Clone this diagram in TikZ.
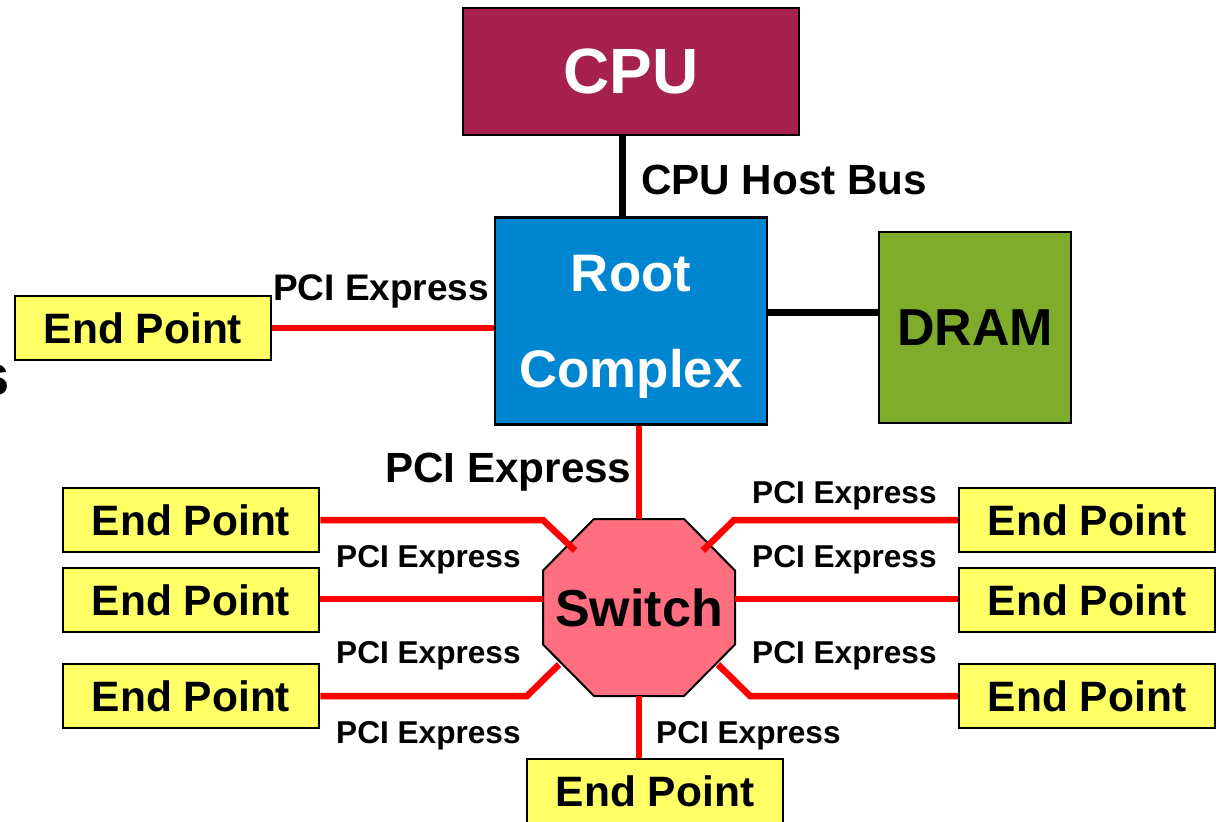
\documentclass[tikz,border=0pt]{standalone}
\usepackage{fontspec}
\setmainfont{Liberation Sans}
\usetikzlibrary{calc}

\definecolor{cpumaroon}{RGB}{166,33,78}
\definecolor{rootblue}{RGB}{0,133,208}
\definecolor{dramgreen}{RGB}{127,172,42}
\definecolor{swpink}{RGB}{255,111,127}
\definecolor{epyellow}{RGB}{255,255,102}
\definecolor{linkred}{RGB}{255,0,0}

\newcommand\boldat[1]{\fontsize{#1}{#1}\selectfont\bfseries}

\tikzset{
  box/.style={draw=black, line width=2.5pt, inner sep=0pt},
  endpoint/.style={box, fill=epyellow, minimum width=256pt, minimum height=64pt,
    font=\boldat{42.5}},
  pcie/.style={draw=linkred, line width=6.5pt},
  hostbus/.style={draw=black, line width=7pt},
  smalllbl/.style={anchor=base west, inner sep=0pt, font=\boldat{31.6}},
  biglbl/.style={anchor=base west, inner sep=0pt, font=\boldat{42.2}},
}

\begin{document}
\begin{tikzpicture}[x=1pt, y=-1pt]
\useasboundingbox (0,0) rectangle (1219,822);
\clip (0,0) rectangle (1219,822);
\fill[white] (0,0) rectangle (1219,822);

% letter running off the left edge
\node[anchor=base east, inner sep=0pt, font=\boldat{58}] (cut) at (10,395) {s};

% main blocks
\node[box, fill=cpumaroon, minimum width=336pt, minimum height=127pt,
      text=white, font=\boldat{64}] (cpu) at (631,71.5) {CPU};
\node[box, fill=rootblue, minimum width=272pt, minimum height=207pt,
      text=white, font=\boldat{52.8}, align=center, text depth=0pt]
      (root) at (631,321) {Root\\[43pt]Complex};
\node[box, fill=dramgreen, minimum width=192pt, minimum height=191pt,
      font=\boldat{52}] (dram) at (975,327.5) {DRAM};

% switch: octagon outline around its centre
\coordinate (swc) at (639,607.5);
\draw[line width=2pt, fill=swpink]
  ($(swc)+(-45,-88.5)$) -- ($(swc)+(45,-88.5)$) -- ($(swc)+(96,-37)$) --
  ($(swc)+(96,37)$) -- ($(swc)+(45,88.5)$) -- ($(swc)+(-45,88.5)$) --
  ($(swc)+(-96,37)$) -- ($(swc)+(-96,-37)$) -- cycle;
\node[inner sep=0pt, font=\boldat{52}] (switch) at (swc) {Switch};
\coordinate (swN) at ($(swc)+(0,-88.5)$);
\coordinate (swS) at ($(swc)+(0,88.5)$);
\coordinate (swW) at ($(swc)+(-96,0)$);
\coordinate (swE) at ($(swc)+(96,0)$);

% end points
\node[endpoint] (ep0)  at (143,328) {End Point};
\node[endpoint] (epl1) at (191,520) {End Point};
\node[endpoint] (epl2) at (191,600) {End Point};
\node[endpoint] (epl3) at (191,696) {End Point};
\node[endpoint] (epr1) at (1087,520) {End Point};
\node[endpoint] (epr2) at (1087,600) {End Point};
\node[endpoint] (epr3) at (1087,696) {End Point};
\node[endpoint] (epb)  at (655,791) {End Point};

% host side buses
\coordinate (hb) at ($(cpu.south)+(-9,0)$);
\draw[hostbus] (hb) -- (root.north -| hb);
\coordinate (dl) at (0,312);
\draw[hostbus] (root.east |- dl) -- (dram.west |- dl);

% PCI Express links
\draw[pcie] (ep0.east) -- (ep0.east -| root.west);
\draw[pcie] (root.south -| swN) -- (swN);
\draw[pcie] (swS) -- (epb.north -| swS);

\coordinate (ulbend) at ($(swc)+(-96,-88)$);
\coordinate (ulend)  at ($(swc)+(-64,-57)$);
\coordinate (urbend) at ($(swc)+(95,-88)$);
\coordinate (urend)  at ($(swc)+(64,-57)$);
\coordinate (llbend) at ($(swc)+(-112,88.5)$);
\coordinate (llend)  at ($(swc)+(-80,57)$);
\coordinate (lrbend) at ($(swc)+(111,88)$);
\coordinate (lrend)  at ($(swc)+(79,57)$);

\draw[pcie] (epl1.east) -- (epl1.east -| ulbend) -- (ulend);
\draw[pcie] (epr1.west) -- (epr1.west -| urbend) -- (urend);
\draw[pcie] (epl3.east) -- (epl3.east -| llbend) -- (llend);
\draw[pcie] (epr3.west) -- (epr3.west -| lrbend) -- (lrend);
\coordinate (ml) at (0,599);
\draw[pcie] (epl2.east |- ml) -- (swW |- ml);
\draw[pcie] (epr2.west |- ml) -- (swE |- ml);

% labels
\node[biglbl] (hostlbl) at (641,194) {CPU Host Bus};
\node[anchor=base west, inner sep=0pt, font=\boldat{37}] (lbl0) at (273,300) {PCI Express};
\node[biglbl] (lblroot) at (385,482) {PCI Express};
\node[smalllbl] (lbll1) at (336,567) {PCI Express};
\node[smalllbl] (lbll2) at (336,663) {PCI Express};
\node[smalllbl] (lbll3) at (336,743) {PCI Express};
\node[smalllbl] (lblr1) at (752,503) {PCI Express};
\node[smalllbl] (lblr2) at (752,567) {PCI Express};
\node[smalllbl] (lblr3) at (752,663) {PCI Express};
\node[smalllbl] (lblb)  at (656,743) {PCI Express};
\end{tikzpicture}
\end{document}
